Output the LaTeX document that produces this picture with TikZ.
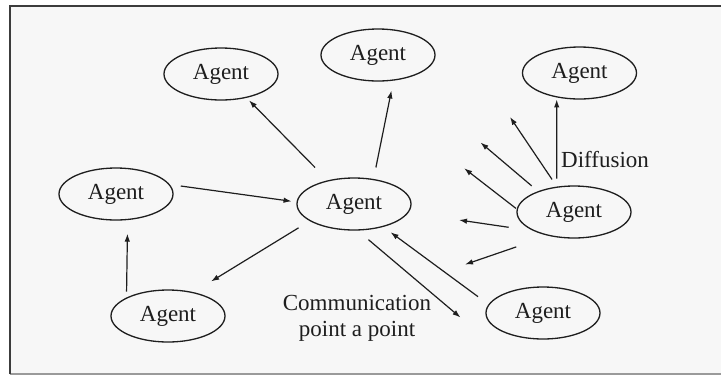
\documentclass[tikz,border=0pt]{standalone}
\usepackage{fontspec}
\setmainfont{Liberation Serif}
\usetikzlibrary{shapes.geometric,arrows.meta}
\definecolor{ink}{HTML}{1E1E1E}
\definecolor{panel}{HTML}{F7F7F7}
\definecolor{edge}{HTML}{3C3C3C}
\definecolor{edgelow}{HTML}{9A9A9A}
\begin{document}
\begin{tikzpicture}[x=1pt,y=-1pt,
  agent/.style={ellipse, draw=ink, line width=1.3pt, minimum width=114pt,
    minimum height=52pt, inner sep=0pt, text=ink, font=\fontsize{23}{26}\selectfont},
  arr/.style={draw=ink, line width=1.2pt, -{Latex[length=8pt,width=5.5pt]}},
  lbl/.style={inner sep=0pt, text=ink, font=\fontsize{23}{26}\selectfont}]
  % canvas and frame
  \useasboundingbox (0,0) rectangle (721,376);
  \fill[white] (0,0) rectangle (721,376);
  \fill[panel] (10,6) rectangle (721,374);
  \draw[edgelow, line width=1.6pt] (10,374) -- (721,374);
  \draw[edge, line width=1.8pt] (10,374) -- (10,6) -- (721,6);

  % agents
  \node[agent] (TL) at (221,74)  {Agent};
  \node[agent] (TM) at (378,55)  {Agent};
  \node[agent] (TR) at (579.5,73) {Agent};
  \node[agent] (L)  at (116,194) {Agent};
  \node[agent] (C)  at (354,204) {Agent};
  \node[agent] (R)  at (574,212) {Agent};
  \node[agent] (BL) at (168,316) {Agent};
  \node[agent] (BR) at (543,313) {Agent};

  % free ends of the open arrows
  \coordinate (p2p) at (460.5,317.5);
  \coordinate (f1) at (510,117);
  \coordinate (f2) at (480.5,142.5);
  \coordinate (f3) at (464.2,168.3);
  \coordinate (f4) at (459,220);
  \coordinate (f5) at (465,264.5);

  % links around the central agent
  \draw[arr, shorten <=11pt, shorten >=5pt]    (L.10.3)   -- (C.178.7);
  \draw[arr, shorten <=18pt, shorten >=3.5pt]  (C.138.7)  -- (TL.-43.8);
  \draw[arr, shorten <=11.7pt, shorten >=10pt] (C.52.8)   -- (TM.-59.1);
  \draw[arr, shorten <=13pt, shorten >=20.5pt] (C.201.9)  -- (BL.43.9);
  \draw[arr, shorten <=6pt, shorten >=13.5pt]  (BL.156.2) -- (L.-66.7);
  \draw[arr, shorten <=14pt]                   (C.-82.1)  -- (p2p);
  \draw[arr, shorten <=13pt, shorten >=9pt]    (BR.171.5) -- (C.-38.3);

  % diffusion fan
  \draw[arr, shorten <=8pt, shorten >=2pt] (R.124.4) -- (TR.-133.6);
  \draw[arr, shorten <=8.6pt] (R.124.7) -- (f1);
  \draw[arr, shorten <=8.3pt] (R.150.9) -- (f2);
  \draw[arr, shorten <=1pt]   (R.177)   -- (f3);
  \draw[arr, shorten <=25pt]  (R.205)   -- (f4);
  \draw[arr, shorten <=34pt]  (R.223.7) -- (f5);

  % labels
  \node[lbl, anchor=base west] (diff) at (561,167) {Diffusion};
  \node[lbl, align=center, anchor=base] (comm) at (357,336) {Communication\\point a point};
\end{tikzpicture}
\end{document}
